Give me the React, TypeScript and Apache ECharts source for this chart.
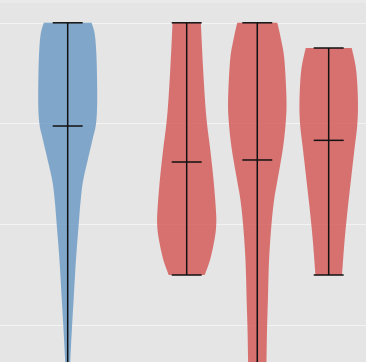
import React, { useEffect, useRef } from "react";
import * as echarts from "echarts";

// Group positions on the x axis (data units)
const groups = ["A", "B", "C", "D"];
const positions = [0, 1.676, 2.67, 3.676];
const colors = ["rgba(111,156,197,0.85)", "rgba(211,93,90,0.85)", "rgba(211,93,90,0.85)", "rgba(211,93,90,0.85)"];

// Horizontal grid line values
const gridValues = [1, 2, 3, 4];

// Density profiles: y values (descending) and relative density (0..1)
const yVals1 = [4.0, 3.88, 3.63, 3.23, 3.0, 2.84, 2.64, 2.43, 2.24, 1.99, 1.65, 1.25, 1.0, 0.635, 0.16];
const dens1 = [0.81, 0.92, 0.98, 1.0, 0.96, 0.84, 0.68, 0.52, 0.44, 0.37, 0.28, 0.2, 0.15, 0.085, 0.02];
const yVals2 = [4.0, 3.63, 3.234, 2.996, 2.738, 2.44, 2.143, 1.994, 1.845, 1.647, 1.498];
const dens2 = [0.48, 0.54, 0.62, 0.69, 0.8, 0.91, 0.99, 1.0, 0.94, 0.79, 0.61];
const yVals3 = [4.0, 3.829, 3.631, 3.234, 2.996, 2.738, 2.431, 2.242, 1.994, 1.647, 1.25, 0.952, 0.635, 0.3, 0.15];
const dens3 = [0.68, 0.81, 0.92, 0.99, 0.96, 0.86, 0.68, 0.57, 0.48, 0.4, 0.36, 0.33, 0.31, 0.28, 0.25];
const yVals4 = [3.75, 3.532, 3.234, 2.996, 2.738, 2.431, 2.143, 1.845, 1.498];
const dens4 = [0.78, 0.93, 0.99, 0.97, 0.87, 0.75, 0.64, 0.54, 0.45];

const medians = [2.976, 2.619, 2.639, 2.834];

const profiles = [
  { y: yVals1, d: dens1 },
  { y: yVals2, d: dens2 },
  { y: yVals3, d: dens3 },
  { y: yVals4, d: dens4 },
];

const MAX_HALF = 0.4155; // data units for density 1
const CAP_HALF = 0.211;

function catmull(pts: number[][], steps: number): number[][] {
  const out: number[][] = [];
  const n = pts.length;
  for (let i = 0; i < n - 1; i++) {
    const p0 = pts[Math.max(0, i - 1)];
    const p1 = pts[i];
    const p2 = pts[i + 1];
    const p3 = pts[Math.min(n - 1, i + 2)];
    for (let s = 0; s < steps; s++) {
      const t = s / steps;
      const t2 = t * t;
      const t3 = t2 * t;
      const f = (a: number, b: number, c: number, d: number) =>
        0.5 * (2 * b + (-a + c) * t + (2 * a - 5 * b + 4 * c - d) * t2 + (-a + 3 * b - 3 * c + d) * t3);
      out.push([f(p0[0], p1[0], p2[0], p3[0]), f(p0[1], p1[1], p2[1], p3[1])]);
    }
  }
  out.push(pts[n - 1]);
  return out;
}

export default function App() {
  const ref = useRef<HTMLDivElement>(null);
  useEffect(() => {
    if (!ref.current) return;
    const chart = echarts.init(ref.current, undefined, { renderer: "svg" });
    const renderItem = (params: any, api: any) => {
      const idx = api.value(0);
      const pos = positions[idx];
      const prof = profiles[idx];
      const right: number[][] = prof.y.map((yv: number, i: number) =>
        api.coord([pos + prof.d[i] * MAX_HALF, yv])
      );
      const left: number[][] = prof.y.map((yv: number, i: number) =>
        api.coord([pos - prof.d[i] * MAX_HALF, yv])
      );
      const r = catmull(right, 10);
      const l = catmull(left, 10).reverse();
      const poly = r.concat(l);
      const top = prof.y[0];
      const bot = prof.y[prof.y.length - 1];
      const pTop = api.coord([pos, top]);
      const pBot = api.coord([pos, bot]);
      const capL = api.coord([pos - CAP_HALF, top])[0];
      const capR = api.coord([pos + CAP_HALF, top])[0];
      const pMed = api.coord([pos, medians[idx]]);
      const lineStyle = { stroke: "#111111", lineWidth: 1.5 };
      return {
        type: "group",
        children: [
          { type: "polygon", shape: { points: poly }, style: { fill: colors[idx], stroke: "none" } },
          { type: "line", shape: { x1: pTop[0], y1: pTop[1], x2: pBot[0], y2: pBot[1] }, style: lineStyle },
          { type: "line", shape: { x1: capL, y1: pTop[1], x2: capR, y2: pTop[1] }, style: lineStyle },
          { type: "line", shape: { x1: capL, y1: pBot[1], x2: capR, y2: pBot[1] }, style: lineStyle },
          { type: "line", shape: { x1: capL, y1: pMed[1], x2: capR, y2: pMed[1] }, style: lineStyle },
        ],
      };
    };
    chart.setOption({
      animation: false,
      backgroundColor: "#e5e5e5",
      grid: {
        left: 0,
        right: 0,
        top: 0,
        bottom: 0,
        show: false,
      },
      xAxis: {
        type: "value",
        min: -0.9535,
        max: 4.2014,
        axisLine: { show: false },
        axisTick: { show: false },
        axisLabel: { show: false },
        splitLine: { show: false },
      },
      yAxis: {
        type: "value",
        min: 0.6349,
        max: 4.2262,
        axisLine: { show: false },
        axisTick: { show: false },
        axisLabel: { show: false },
        splitLine: { show: false },
      },
      graphic: [
        { type: "rect", shape: { x: 0, y: 0, width: 366, height: 3 }, style: { fill: "#eaeaea" }, z: 100 },
      ],
      series: [
        {
          type: "line",
          data: [],
          z: 1,
          markLine: {
            silent: true,
            symbol: "none",
            z: 1,
            label: { show: false },
            lineStyle: { color: "#f3f3f3", width: 1, type: "solid" },
            data: gridValues.map((v) => ({ yAxis: v })),
          },
        },
        {
          type: "custom",
          renderItem,
          clip: false,
          z: 10,
          data: groups.map((_, i) => [i]),
          encode: { x: 0 },
        },
      ],
    });
    return () => chart.dispose();
  }, []);
  return <div ref={ref} style={{ position: "fixed", left: 0, top: 0, width: 366, height: 362 }} />;
}
